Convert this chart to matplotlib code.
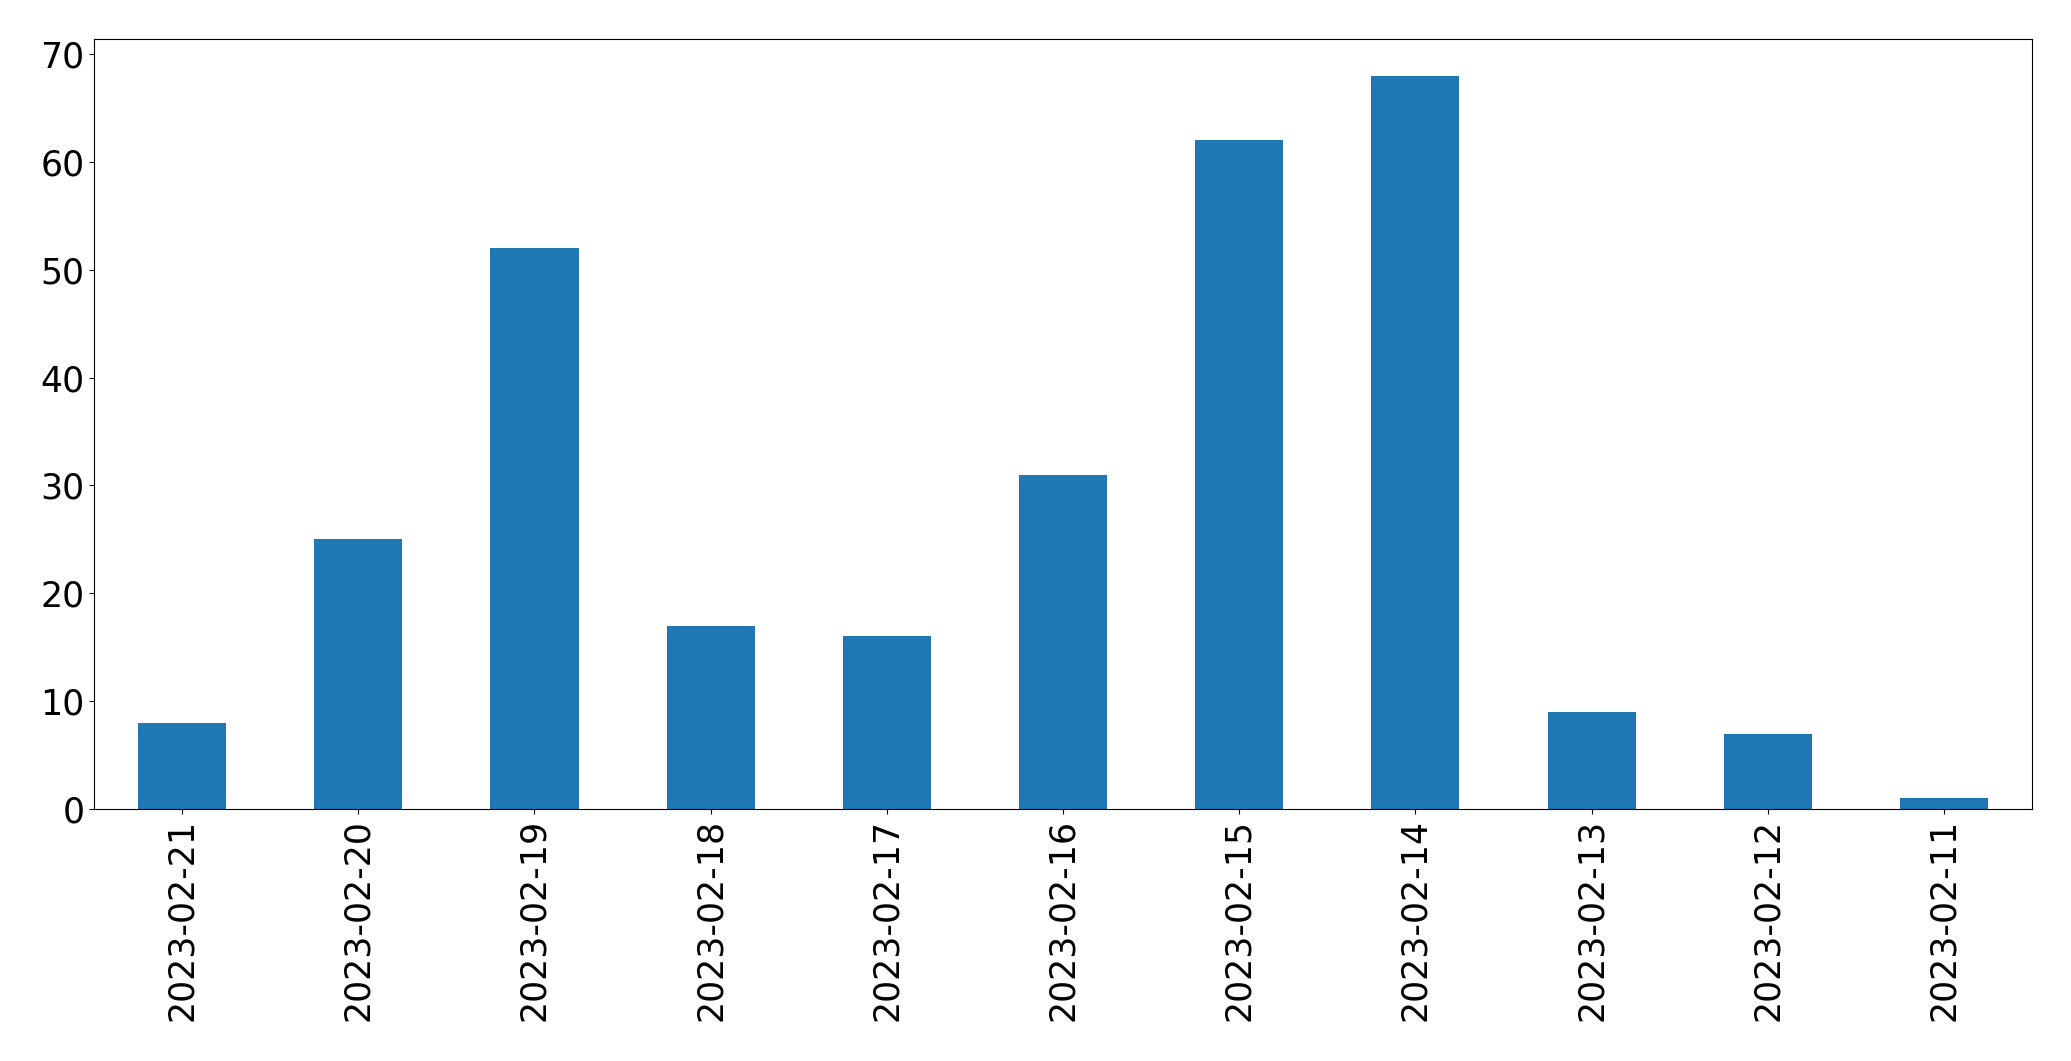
import matplotlib
matplotlib.use("Agg")
import matplotlib.pyplot as plt

dates = ["2023-02-21", "2023-02-20", "2023-02-19", "2023-02-18", "2023-02-17",
         "2023-02-16", "2023-02-15", "2023-02-14", "2023-02-13", "2023-02-12",
         "2023-02-11"]
counts = [8, 25, 52, 17, 16, 31, 62, 68, 9, 7, 1]

fig = plt.figure(figsize=(20.71, 10.61), dpi=100)
ax = fig.add_axes([94/2071, 1 - 809/1061, (2032-94)/2071, (809-39)/1061])
x = list(range(len(dates)))
ax.bar(x, counts, width=0.5, color="#1f77b4")
ax.set_xlim(-0.5, len(dates) - 0.5)
ax.set_xticks(x)
ax.set_xticklabels(dates, rotation=90)
ax.tick_params(axis="both", labelsize=25)
fig.savefig("out.png", dpi=100)
